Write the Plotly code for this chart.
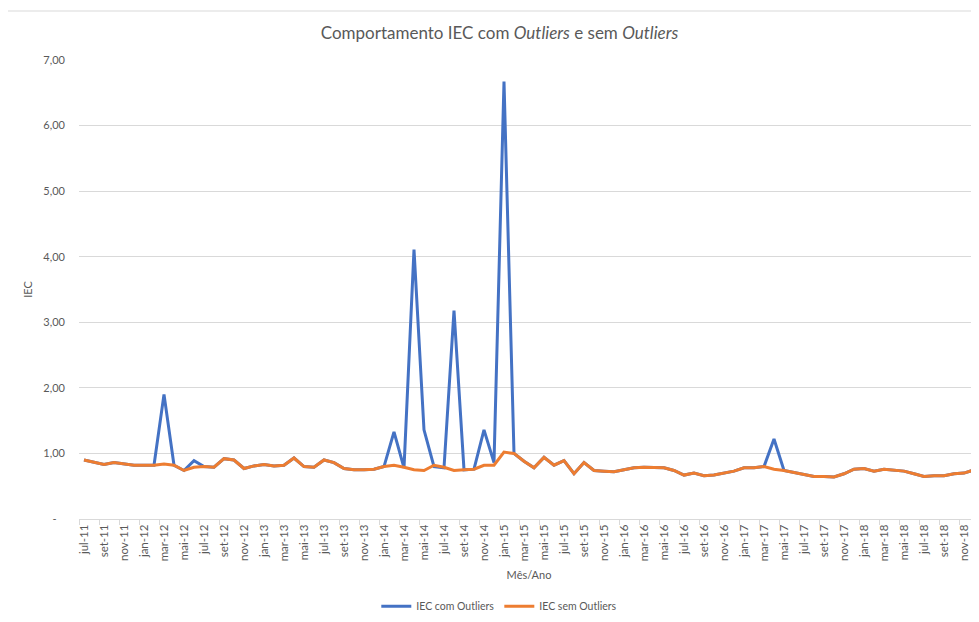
import plotly.graph_objects as go

month_abbr = ["jan", "fev", "mar", "abr", "mai", "jun", "jul", "ago", "set", "out", "nov", "dez"]
months = []
for year in range(2011, 2019):
    for m in range(12):
        if year == 2011 and m < 6:
            continue
        months.append(f"{month_abbr[m]}-{str(year)[2:]}")

iec_com_outliers = [
    0.90, 0.86, 0.83, 0.86, 0.84, 0.82, 0.82, 0.82, 1.90, 0.82,
    0.74, 0.89, 0.80, 0.79, 0.92, 0.90, 0.77, 0.81, 0.83, 0.81,
    0.82, 0.93, 0.80, 0.79, 0.90, 0.86, 0.77, 0.75, 0.75, 0.76,
    0.80, 1.33, 0.78, 4.11, 1.36, 0.80, 0.78, 3.18, 0.75, 0.76,
    1.36, 0.86, 6.67, 1.00, 0.88, 0.78, 0.94, 0.82, 0.89, 0.69,
    0.86, 0.74, 0.73, 0.72, 0.75, 0.78, 0.79, 0.79, 0.78, 0.74,
    0.67, 0.70, 0.66, 0.67, 0.70, 0.73, 0.78, 0.78, 0.80, 1.22,
    0.74, 0.71, 0.68, 0.65, 0.65, 0.64, 0.69, 0.76, 0.77, 0.73,
    0.76, 0.75, 0.73, 0.69, 0.65, 0.66, 0.66, 0.69, 0.70, 0.75,
]

iec_sem_outliers = [
    0.90, 0.86, 0.83, 0.86, 0.84, 0.82, 0.82, 0.82, 0.84, 0.82,
    0.74, 0.79, 0.80, 0.79, 0.92, 0.90, 0.77, 0.81, 0.83, 0.81,
    0.82, 0.93, 0.80, 0.79, 0.90, 0.86, 0.77, 0.75, 0.75, 0.76,
    0.80, 0.82, 0.79, 0.75, 0.74, 0.82, 0.79, 0.74, 0.75, 0.76,
    0.82, 0.82, 1.02, 1.00, 0.88, 0.78, 0.94, 0.82, 0.89, 0.69,
    0.86, 0.74, 0.73, 0.72, 0.75, 0.78, 0.79, 0.79, 0.78, 0.74,
    0.67, 0.70, 0.66, 0.67, 0.70, 0.73, 0.78, 0.78, 0.80, 0.76,
    0.74, 0.71, 0.68, 0.65, 0.65, 0.64, 0.69, 0.76, 0.77, 0.73,
    0.76, 0.75, 0.73, 0.69, 0.65, 0.66, 0.66, 0.69, 0.70, 0.75,
]

y_tick_vals = [0, 1, 2, 3, 4, 5, 6, 7]
y_tick_text = ["-\u00a0\u00a0\u00a0", "1,00", "2,00", "3,00", "4,00", "5,00", "6,00", "7,00"]

FONT = "Lato, Carlito, Calibri, sans-serif"
GRAY = "#595959"

fig = go.Figure()
fig.add_trace(go.Scatter(
    x=months, y=iec_com_outliers, mode="lines", name="IEC com Outliers",
    line=dict(color="#4472C4", width=3),
))
fig.add_trace(go.Scatter(
    x=months, y=iec_sem_outliers, mode="lines", name="IEC sem Outliers",
    line=dict(color="#ED7D31", width=3),
))

# page body has an 8px default margin, so figure coordinates are offset by 8px
fig.update_layout(
    width=979, height=622,
    margin=dict(l=71, r=8, t=52, b=111),
    paper_bgcolor="white", plot_bgcolor="white",
    font=dict(family=FONT, color=GRAY, size=11),
    title=dict(
        text="Comportamento IEC com <i>Outliers</i> e sem <i>Outliers</i>",
        x=491.5 / 979, xref="container", xanchor="center",
        y=1 - 25 / 622, yref="container", yanchor="middle",
        font=dict(family=FONT, size=17, color=GRAY),
    ),
    showlegend=True,
    legend=dict(
        orientation="h", x=0.467, xanchor="center", y=-0.19, yanchor="middle",
        font=dict(family=FONT, size=10.5, color=GRAY),
        itemwidth=30, bgcolor="rgba(0,0,0,0)",
    ),
    shapes=[dict(
        type="rect", xref="paper", yref="paper",
        x0=(7 - 79) / 900, x1=1.2, y0=-0.5, y1=(519 - 11) / 459,
        line=dict(color="#d9d9d9", width=1), fillcolor="rgba(0,0,0,0)", layer="below",
    )],
)

fig.update_xaxes(
    type="category", range=[-0.5, len(months) - 0.5],
    tickmode="linear", tick0=0, dtick=2, tickangle=-90,
    tickson="boundaries", ticks="outside", ticklen=5, tickcolor="#d9d9d9",
    showline=True, linecolor="#d9d9d9", linewidth=1,
    showgrid=False, zeroline=False, automargin=False,
    tickfont=dict(family=FONT, size=11.5, color=GRAY),
    title=dict(text="Mês/Ano", standoff=10, font=dict(family=FONT, size=11, color=GRAY)),
)
fig.update_yaxes(
    range=[0, 7], tickmode="array", tickvals=y_tick_vals, ticktext=y_tick_text,
    showgrid=True, gridcolor="#d9d9d9", gridwidth=1,
    showline=False, zeroline=False, ticks="", automargin=False,
    ticklabelstandoff=13,
    tickfont=dict(family=FONT, size=11, color=GRAY),
    title=dict(text="IEC", standoff=8, font=dict(family=FONT, size=11, color=GRAY)),
)

fig.write_html("out.html")
